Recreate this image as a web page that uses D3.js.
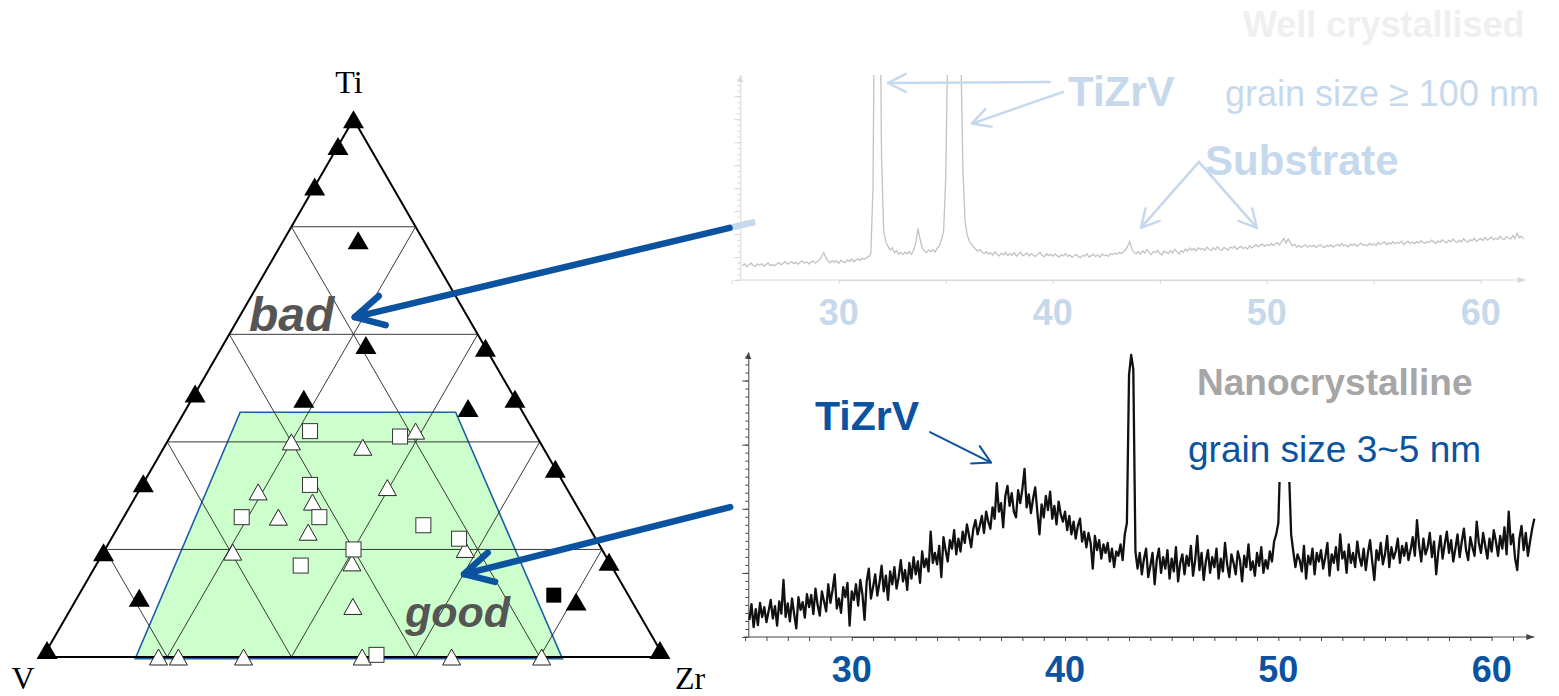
<!DOCTYPE html>
<html><head><meta charset="utf-8">
<script src="https://cdn.jsdelivr.net/npm/d3@7"></script>
<style>body{margin:0;background:#fff}svg{display:block}</style>
</head><body>
<svg id="c" width="1559" height="696"></svg>
<script>
// ---------- Ternary data: [Ti %, Zr %]  (V = 100 - Ti - Zr) ----------
const badTriangles = [[100,0],[95,0],[87.5,0],[77.5,12],[57.5,42.5],[58,23],[49,0],[48,18],[46.3,45.3],[48,52],[35,65],[32.3,0],[19.5,0],[11,10],[17.7,82.3],[10.3,80.7],[1.3,0],[1.3,98.7]];
const badSquares = [[11.5,76.5]];
const goodTriangles = [[40,20],[42,39],[39,32],[30.7,19.3],[31.5,39.7],[28.8,29],[26,24.9],[23.2,31.1],[19.5,20.8],[20,58],[17.5,41],[9.4,45.2],[0,18.6],[0,21.8],[0,32.3],[0,51.4],[0,65.8],[0,80.3]];
const goodSquares = [[42,22],[41,37],[32,27],[26,19],[26,31.5],[24.5,49],[22,56],[20,40],[17,33],[0.4,53.5]];
const goodRegion = [[45.5,9],[45.5,43.7],[-0.3,83.8],[-0.3,15]];
const gridSteps = [20,40,60,80];

// ---------- XRD data ----------
const tickLabels = [30,40,50,60];
// well crystallised film: 2theta from 25.5 step 0.1
const upStart = 25.5, upStep = 0.1;
const upI = [
7.0,7.8,6.5,7.4,8.2,
7.1,6.6,7.9,7.2,8.0,6.8,7.5,8.3,7.0,7.6,
6.9,7.8,8.6,7.4,8.1,9.0,7.7,8.4,8.9,8.0,
8.6,7.6,8.8,9.3,8.2,8.9,7.9,8.7,9.4,8.3,
8.9,9.8,11.5,13.3,11.0,9.2,8.4,9.5,8.7,9.3,
8.2,9.6,9.0,8.5,9.8,9.1,10.2,8.9,9.7,10.3,
9.5,10.6,10.0,10.9,11.4,13.0,45.0,180.0,250.0,180.0,
60.0,24.0,18.7,16.5,14.6,15.8,13.2,14.3,12.6,13.5,
12.4,13.6,12.8,13.9,12.5,14.5,18.0,25.2,20.0,15.6,
14.2,13.4,14.6,13.8,14.9,13.6,15.5,16.8,19.5,24.0,
50.0,120.0,220.0,300.0,350.0,320.0,250.0,115.0,55.0,29.0,
22.0,19.0,17.3,16.2,15.0,14.1,14.8,13.5,12.9,13.8,
12.6,13.4,12.1,13.7,12.4,11.8,13.1,12.3,13.6,11.9,
12.8,12.0,13.3,11.6,12.7,13.5,11.8,12.4,13.2,11.7,
12.9,12.1,11.5,12.6,13.4,12.0,11.3,12.8,11.9,12.5,
11.6,12.7,11.9,11.2,12.4,11.7,12.9,11.4,12.2,11.0,
11.8,12.5,11.3,10.9,12.1,11.6,12.8,11.2,11.9,12.6,
11.4,12.3,11.1,12.7,11.8,12.2,11.5,12.9,12.4,13.1,
12.6,13.5,12.9,13.8,14.6,16.5,18.7,15.0,13.4,12.8,
13.9,12.6,14.2,13.1,14.8,13.5,12.4,14.0,13.3,14.5,
13.0,12.2,14.1,13.6,12.9,14.4,13.2,15.0,13.8,12.7,
14.3,13.5,15.1,14.0,15.6,14.6,15.3,14.2,15.8,14.9,
15.4,14.5,16.0,15.1,14.3,15.7,14.8,16.2,15.0,14.4,
15.9,15.2,14.6,16.1,15.5,16.6,14.9,15.8,16.4,15.3,
16.0,15.1,16.7,15.6,16.3,17.2,16.1,16.9,17.5,16.4,
17.3,16.6,17.8,16.9,17.6,18.3,17.1,18.9,20.3,18.0,
20.0,18.2,16.8,17.4,16.1,16.9,15.8,16.6,17.2,16.0,
16.8,16.2,17.0,15.9,16.5,17.3,16.4,15.8,16.9,16.3,
17.1,16.0,16.7,17.4,16.5,17.8,16.6,17.2,16.1,17.5,
16.8,17.6,16.4,17.1,18.0,16.9,17.3,16.6,17.9,17.0,
17.7,16.8,18.2,17.4,17.9,18.6,17.2,18.1,17.5,18.8,
17.6,18.4,17.9,18.9,17.3,18.2,19.0,17.8,18.5,17.7,
18.7,18.0,19.2,18.3,17.9,18.8,18.2,19.4,18.6,17.8,
19.1,18.4,19.6,18.8,18.1,19.3,18.7,19.9,18.9,18.3,
19.4,18.6,20.1,19.0,18.5,19.7,19.1,20.3,18.9,19.6,
20.2,19.3,20.8,19.5,20.0,21.0,19.6,20.4,19.8,21.3,
20.1,19.7,21.2,20.5,19.9,21.6,20.3,22.8,20.6,21.4,
19.9];
// nanocrystalline film: 2theta from 25.2 step 0.1
const loStart = 25.2, loStep = 0.1;
const loI = [
6.0,11.5,3.5,9.8,4.2,12.0,7.0,10.5,
5.2,9.0,13.0,6.5,10.8,4.0,12.5,8.2,20.0,7.0,
11.8,5.5,13.5,8.0,3.0,14.0,9.5,12.2,6.8,15.0,
10.5,14.8,8.0,17.0,11.2,7.5,16.0,12.5,9.0,18.5,
12.0,16.5,22.0,10.0,13.5,8.5,17.5,14.0,19.0,4.0,
16.0,13.0,18.5,11.0,20.0,15.0,6.0,19.5,24.0,13.5,
17.5,22.0,14.5,19.0,25.0,16.0,21.5,13.0,23.0,18.5,
24.5,17.0,21.0,27.0,19.5,23.5,16.5,26.0,20.5,28.0,
22.0,26.5,19.0,30.0,24.5,27.5,23.0,37.0,26.0,29.5,
25.5,32.0,21.0,35.0,30.5,26.5,34.0,31.0,37.5,29.0,
34.5,30.0,37.0,33.0,39.5,35.5,31.5,38.0,41.0,36.0,
39.0,42.5,36.5,44.0,40.5,38.0,45.5,41.5,54.0,44.0,
47.0,38.5,49.5,53.0,46.0,50.5,44.0,42.0,51.5,47.0,
52.0,59.0,45.5,50.0,43.5,48.5,52.5,44.0,36.0,46.5,
42.0,49.5,44.5,51.0,41.5,46.0,39.5,47.5,43.0,40.5,
44.0,37.5,42.5,36.0,40.5,34.5,39.0,41.5,33.5,37.0,
31.5,36.5,33.0,24.0,35.5,30.5,34.0,27.5,32.5,29.5,
33.0,26.5,31.0,24.5,30.0,28.5,32.5,27.0,36.0,40.0,
92.0,99.0,94.0,30.0,24.0,29.5,22.0,27.5,31.0,21.0,
25.0,29.5,18.5,27.0,31.0,22.5,28.0,24.0,30.5,20.5,
27.5,23.0,31.5,19.5,26.0,29.0,22.0,28.5,25.0,32.0,
21.5,27.0,35.5,23.5,29.5,20.0,26.5,30.5,22.5,28.0,
24.5,31.0,20.5,27.5,23.0,33.0,25.5,21.0,29.0,26.0,
22.0,30.0,27.0,19.5,28.5,24.5,32.5,23.5,26.5,21.5,
29.5,25.0,31.5,22.5,27.0,24.0,30.0,26.5,33.5,36.0,
40.0,66.0,72.0,74.0,70.0,58.0,36.0,30.0,24.5,29.0,
27.0,23.0,32.0,20.5,28.5,25.5,31.0,22.0,29.5,26.5,
30.5,24.0,28.0,33.0,21.5,29.0,26.0,31.5,23.5,36.0,
27.5,30.0,22.5,32.5,26.0,29.5,24.5,33.5,28.0,25.0,
31.0,23.5,29.5,34.0,26.5,20.0,30.5,27.0,33.0,25.5,
29.0,35.5,24.5,31.5,27.5,30.0,34.5,26.0,32.0,28.5,
33.0,27.0,30.5,35.0,28.5,41.0,32.0,26.5,34.5,29.0,
31.5,36.5,28.0,33.5,22.0,30.0,35.5,27.5,32.5,37.0,
29.5,34.0,26.5,31.0,36.0,28.0,33.5,38.0,30.5,27.0,
35.0,31.5,28.5,40.5,33.0,29.5,36.5,32.0,27.5,34.5,
30.0,37.5,33.5,28.5,35.5,31.0,38.5,29.0,44.0,32.5,
36.0,27.5,23.5,34.5,39.0,30.5,36.5,28.5,33.5,38.0,
41.5];

// ---------- colours ----------
const DARKBLUE = '#0b52a0', LIGHTBLUE = '#c6d9ec';

const svg = d3.select('#c');
const SANS = '"Liberation Sans", Arial, sans-serif';
const SERIF = '"Liberation Serif", "Times New Roman", serif';

// ================= TERNARY =================
const tX = d3.scaleLinear().domain([0,100]).range([43,664]);
const tY = d3.scaleLinear().domain([0,100]).range([657,119.2]);
const tern = (ti, zr) => [tX(zr + ti/2), tY(ti)];
const tg = svg.append('g');

tg.append('path')
  .attr('d', 'M' + goodRegion.map(d => tern(d[0], d[1])).join('L') + 'Z')
  .attr('fill', '#ccffcc').attr('stroke', '#1d5ea8').attr('stroke-width', 1.6);

const gridLines = [];
gridSteps.forEach(k => {
  gridLines.push([[k,0],[k,100-k]]);          // constant Ti
  gridLines.push([[0,k],[100-k,k]]);          // constant Zr
  gridLines.push([[0,100-k],[100-k,0]]);      // constant V
});
tg.selectAll('line.grid').data(gridLines).join('line').attr('class','grid')
  .attr('x1', d => tern(...d[0])[0]).attr('y1', d => tern(...d[0])[1])
  .attr('x2', d => tern(...d[1])[0]).attr('y2', d => tern(...d[1])[1])
  .attr('stroke', '#222').attr('stroke-width', 0.9);

tg.append('path')
  .attr('d', 'M' + [tern(100,0), tern(0,0), tern(0,100)].join('L') + 'Z')
  .attr('fill', 'none').attr('stroke', '#000').attr('stroke-width', 2).attr('stroke-linejoin','miter');

const triPath = (w, h) => `M0,${-h/2}L${w/2},${h/2}L${-w/2},${h/2}Z`;
tg.selectAll('path.bt').data(badTriangles).join('path').attr('class','bt')
  .attr('d', triPath(21,18)).attr('transform', d => `translate(${tern(d[0], d[1])})`)
  .attr('fill', '#000');
tg.selectAll('path.gt').data(goodTriangles).join('path').attr('class','gt')
  .attr('d', triPath(18,16)).attr('transform', d => `translate(${tern(d[0], d[1])})`)
  .attr('fill', '#fff').attr('stroke', '#222').attr('stroke-width', 1);
tg.selectAll('rect.gs').data(goodSquares).join('rect').attr('class','gs')
  .attr('x', d => tern(d[0], d[1])[0] - 7.5).attr('y', d => tern(d[0], d[1])[1] - 7.5)
  .attr('width', 15).attr('height', 15)
  .attr('fill', '#fff').attr('stroke', '#333').attr('stroke-width', 1);
tg.selectAll('rect.bs').data(badSquares).join('rect').attr('class','bs')
  .attr('x', d => tern(d[0], d[1])[0] - 7.5).attr('y', d => tern(d[0], d[1])[1] - 7.5)
  .attr('width', 15).attr('height', 15).attr('fill', '#000');

tg.append('text').text('Ti').attr('x', 349).attr('y', 93).attr('text-anchor','middle')
  .style('font-family', SERIF).style('font-size','32px');
tg.append('text').text('V').attr('x', 23).attr('y', 689).attr('text-anchor','middle')
  .style('font-family', SERIF).style('font-size','32px');
tg.append('text').text('Zr').attr('x', 690).attr('y', 689).attr('text-anchor','middle')
  .style('font-family', SERIF).style('font-size','32px');

tg.append('text').text('bad').attr('x', 249).attr('y', 331)
  .style('font-family', SANS).style('font-weight','bold').style('font-style','italic')
  .style('font-size','48px').attr('fill','#555');
tg.append('text').text('good').attr('x', 405).attr('y', 627)
  .style('font-family', SANS).style('font-weight','bold').style('font-style','italic')
  .style('font-size','43px').attr('fill','#555');

// ================= XRD panels =================
const xUp = d3.scaleLinear().domain([30,60]).range([838.75, 1480.75]);
const yUp = d3.scaleLinear().domain([0,100]).range([280,75]);
const xLo = d3.scaleLinear().domain([30,60]).range([851.75, 1491.65]);
const yLo = d3.scaleLinear().domain([0,100]).range([637,352]);

const defs = svg.append('defs');
defs.append('clipPath').attr('id','clipUp').append('rect')
  .attr('x', 735).attr('y', yUp(100)).attr('width', 800).attr('height', yUp(0) - yUp(100) + 5);
defs.append('clipPath').attr('id','clipLo').append('rect')
  .attr('x', 740).attr('y', yLo(100)).attr('width', 800).attr('height', yLo(0) - yLo(100) + 5);

function axesFor(xs, ys, th0, th1, color, xMinor, yMinor, yMajor) {
  const g = svg.append('g');
  g.append('g').attr('transform', `translate(0,${ys(0)})`)
    .call(d3.axisBottom(xs).tickValues(xMinor).tickSize(4).tickFormat('').tickSizeOuter(0));
  g.append('g').attr('transform', `translate(${xs(th0)},0)`)
    .call(d3.axisLeft(ys).tickValues(yMinor).tickSize(3).tickFormat('').tickSizeOuter(0));
  g.append('g').attr('transform', `translate(${xs(th0)},0)`)
    .call(d3.axisLeft(ys).tickValues(yMajor).tickSize(6).tickFormat('').tickSizeOuter(0))
    .select('.domain').remove();
  g.selectAll('.domain').attr('stroke', color);
  g.selectAll('.tick line').attr('stroke', color);
  const xe = xs(th1), y0 = ys(0), x0 = xs(th0), ytop = ys(100);
  g.append('line').attr('x1', x0 - 4).attr('x2', xe).attr('y1', y0).attr('y2', y0).attr('stroke', color);
  g.append('path').attr('d', `M${xe-8},${y0-3}L${xe},${y0}L${xe-8},${y0+3}Z`).attr('fill', color);
  g.append('path').attr('d', `M${x0-3},${ytop+7}L${x0},${ytop}L${x0+3},${ytop+7}Z`).attr('fill', color);
  return g;
}

// upper panel
axesFor(xUp, yUp, 25.4, 62.1, '#d8d8d8', d3.range(25,62,5), d3.range(0,100,2.8), d3.range(0,100,11.2));
const upData = upI.map((v,i) => [upStart + i*upStep, v]);
svg.append('path').datum(upData).attr('clip-path','url(#clipUp)')
  .attr('d', d3.line().x(d => xUp(d[0])).y(d => yUp(d[1])))
  .attr('fill','none').attr('stroke','#c2c2c2').attr('stroke-width',1.3);
svg.selectAll('text.tup').data(tickLabels).join('text').attr('class','tup')
  .text(d => d).attr('x', d => xUp(d)).attr('y', 325).attr('text-anchor','middle')
  .style('font-family', SANS).style('font-weight','bold').style('font-size','36px').attr('fill', LIGHTBLUE);

// lower panel
axesFor(xLo, yLo, 25.15, 62.0, '#444', d3.range(25,62,1), d3.range(0,100,2.8125), d3.range(0,100,22.5));
const loData = loI.map((v,i) => [loStart + i*loStep, v]);
svg.append('path').datum(loData).attr('clip-path','url(#clipLo)')
  .attr('d', d3.line().x(d => xLo(d[0])).y(d => yLo(d[1])))
  .attr('fill','none').attr('stroke','#111').attr('stroke-width',2.3).attr('stroke-linejoin','round');
svg.selectAll('text.tlo').data(tickLabels).join('text').attr('class','tlo')
  .text(d => d).attr('x', d => xLo(d)).attr('y', 682).attr('text-anchor','middle')
  .style('font-family', SANS).style('font-weight','bold').style('font-size','36px').attr('fill', DARKBLUE);

// ---------- annotations ----------
function arrow(p0, p1, color, w, wing, ang) {
  const g = svg.append('g').attr('fill','none').attr('stroke', color).attr('stroke-width', w)
    .attr('stroke-linecap','round').attr('stroke-linejoin','round');
  g.append('line').attr('x1', p0[0]).attr('y1', p0[1]).attr('x2', p1[0]).attr('y2', p1[1]);
  const a = Math.atan2(p0[1]-p1[1], p0[0]-p1[0]), r = ang*Math.PI/180;
  const w1 = [p1[0] + wing*Math.cos(a+r), p1[1] + wing*Math.sin(a+r)];
  const w2 = [p1[0] + wing*Math.cos(a-r), p1[1] + wing*Math.sin(a-r)];
  g.append('path').attr('d', `M${w1}L${p1}L${w2}`);
}

// upper panel texts
svg.append('text').text('Well crystallised').attr('x', 1243).attr('y', 37)
  .style('font-family', SANS).style('font-weight','bold').style('font-size','36px').attr('fill','#efefef');
svg.append('text').text('TiZrV').attr('x', 1068).attr('y', 106)
  .style('font-family', SANS).style('font-weight','bold').style('font-size','42px').attr('fill', LIGHTBLUE);
svg.append('text').text('grain size \u2265 100 nm').attr('x', 1225).attr('y', 106)
  .style('font-family', SANS).style('font-size','36px').attr('fill', LIGHTBLUE);
svg.append('text').text('Substrate').attr('x', 1205).attr('y', 175)
  .style('font-family', SANS).style('font-weight','bold').style('font-size','42px').attr('fill', LIGHTBLUE);
arrow([xUp(39.87), yUp(96.6)], [xUp(32.3), yUp(96.1)], LIGHTBLUE, 2.5, 20, 27);
arrow([xUp(40.48), yUp(91.7)], [xUp(36.22), yUp(76.3)], LIGHTBLUE, 2.5, 20, 28);
arrow([xUp(46.83), yUp(57.6)], [xUp(44.12), yUp(25.4)], LIGHTBLUE, 2.5, 20, 28);
arrow([xUp(46.83), yUp(57.6)], [xUp(49.54), yUp(25.4)], LIGHTBLUE, 2.5, 20, 28);

// lower panel texts
svg.append('rect').attr('x', 1184).attr('y', 418).attr('width', 302).attr('height', 64).attr('fill','#fff');
svg.append('text').text('Nanocrystalline').attr('x', 1197).attr('y', 395)
  .style('font-family', SANS).style('font-weight','bold').style('font-size','37px').attr('fill','#a6a6a6');
svg.append('text').text('grain size 3~5 nm').attr('x', 1188).attr('y', 462)
  .style('font-family', SANS).style('font-size','37px').attr('fill', DARKBLUE);
svg.append('text').text('TiZrV').attr('x', 815).attr('y', 430)
  .style('font-family', SANS).style('font-weight','bold').style('font-size','41px').attr('fill', DARKBLUE);
arrow([xLo(33.67), yLo(71.9)], [xLo(36.53), yLo(61.2)], DARKBLUE, 2, 20, 29);

// big arrows from XRD patterns to the ternary diagram
const a1Start = [xUp(24.9), yUp(25.4)], a1Tip = tern(63.2, 18.6);
const stubEnd = [xUp(26.09), yUp(28.3)];
svg.append('line').attr('x1', a1Start[0]).attr('y1', a1Start[1]).attr('x2', stubEnd[0]).attr('y2', stubEnd[1])
  .attr('stroke', LIGHTBLUE).attr('stroke-width', 6.5);
arrow(a1Start, a1Tip, DARKBLUE, 6.5, 32, 28);
arrow([xLo(24.3), yLo(45.6)], tern(15.4, 60.1), DARKBLUE, 6.5, 32, 28);
</script>
</body></html>
